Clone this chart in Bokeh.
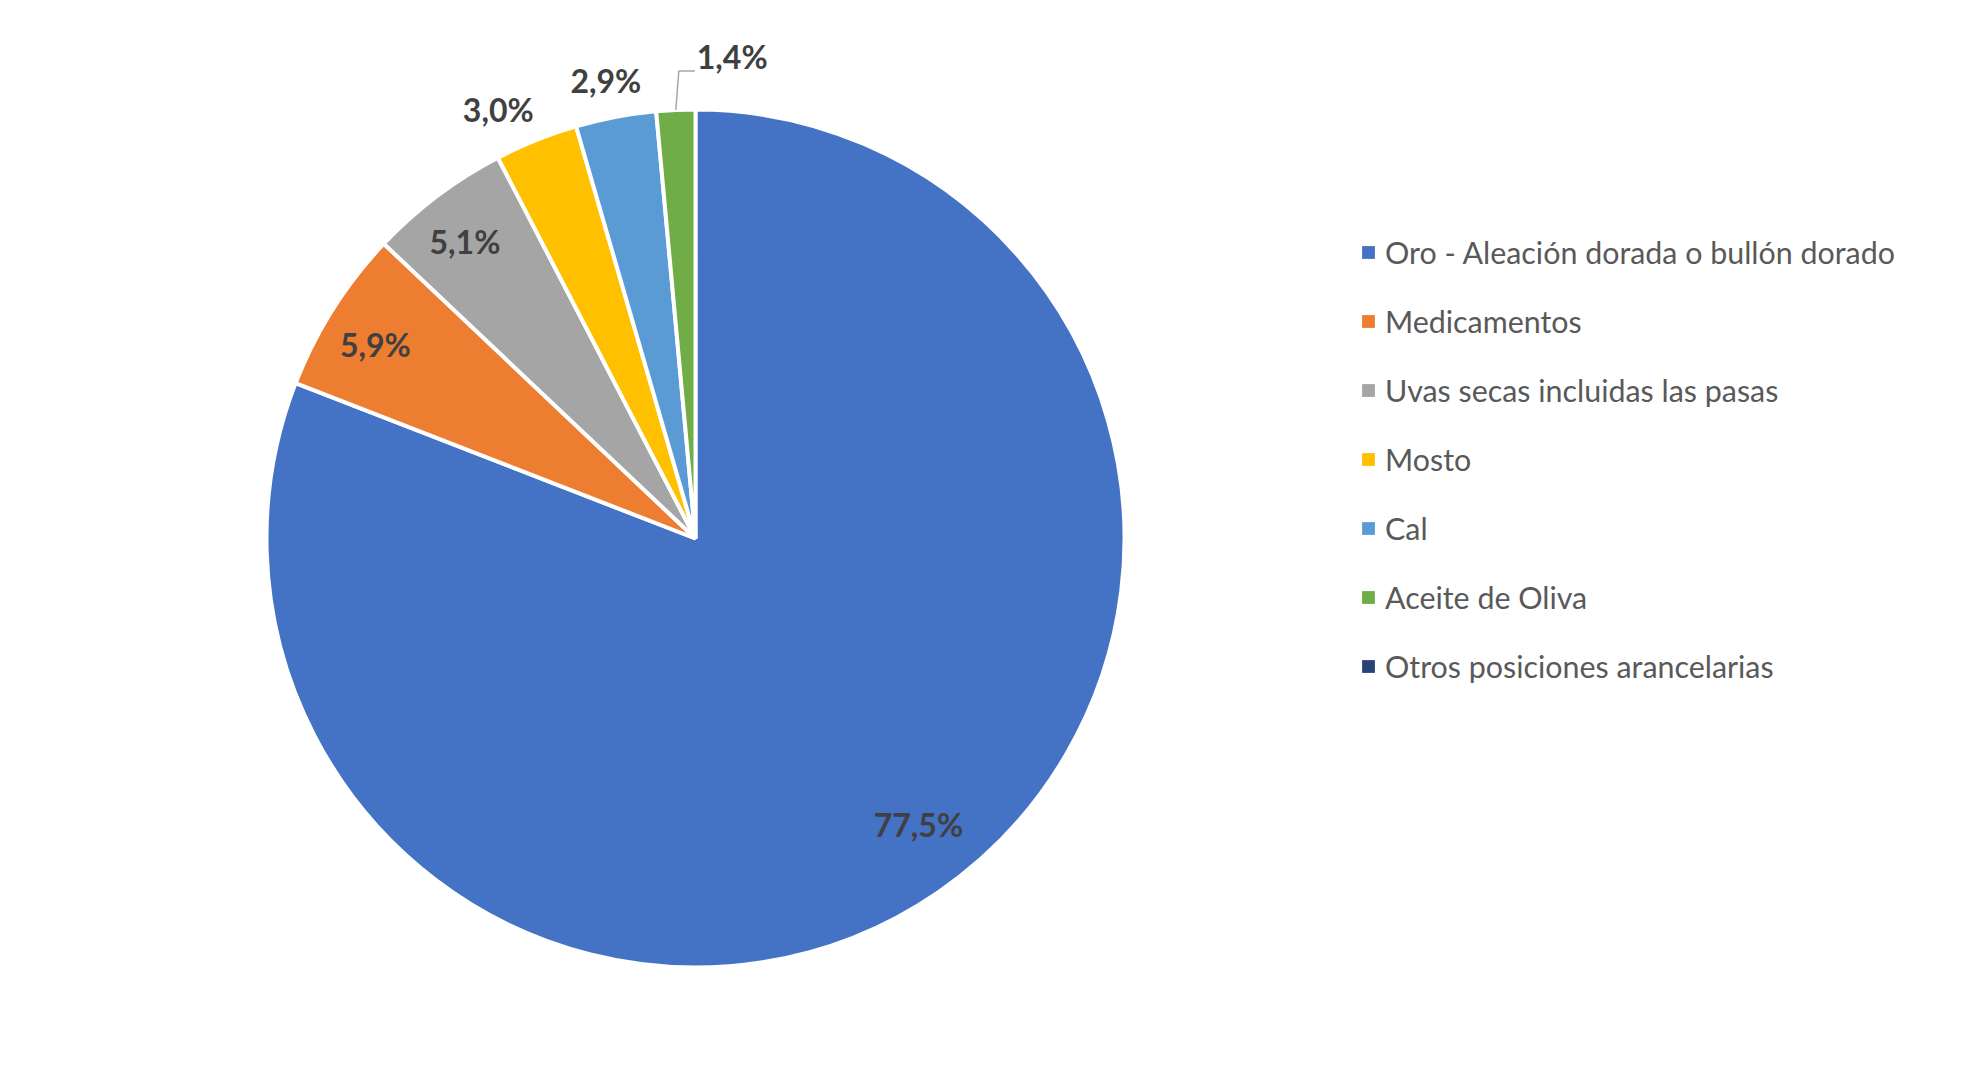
import math
from bokeh.plotting import figure
from bokeh.models import Range1d, Legend, LegendItem, ColumnDataSource
from bokeh.core.properties import value
from bokeh.embed import file_html
from bokeh.resources import INLINE

# ---- data ----
categories = ["Oro - Aleación dorada o bullón dorado", "Medicamentos",
              "Uvas secas incluidas las pasas", "Mosto", "Cal",
              "Aceite de Oliva", "Otros posiciones arancelarias"]
shares = [77.5, 5.9, 5.1, 3.0, 2.9, 1.4, 0.0]
labels = ["77,5%", "5,9%", "5,1%", "3,0%", "2,9%", "1,4%", ""]
colors = ["#4472C4", "#ED7D31", "#A5A5A5", "#FFC000", "#5B9BD5", "#70AD47", "#264478"]

# ---- layout (styling) ----
W, H = 1963, 1061
CX, CY, R = 695, H - 538, 429
label_radius = [0.85, 0.85, 0.85, 1.10, 1.10, 0.0, 0.0]
label_dx = [17, -12, -11, -22, -2, 0, 0]
label_dy = [-15, 1, -6, 9, 6, 0, 0]

p = figure(width=W, height=H, output_backend="svg", toolbar_location=None,
           x_axis_type=None, y_axis_type=None,
           x_range=Range1d(0, W), y_range=Range1d(0, H),
           min_border=0, min_border_left=0, min_border_right=0,
           min_border_top=0, min_border_bottom=0)
p.outline_line_color = None
p.grid.visible = False
p.background_fill_color = "white"
p.border_fill_color = "white"

total = sum(shares)
starts, ends, mids = [], [], []
cum = 0.0
for v in shares:
    f0 = cum / total
    cum += v
    f1 = cum / total
    starts.append(math.pi / 2 - f0 * 2 * math.pi)
    ends.append(math.pi / 2 - f1 * 2 * math.pi)
    mids.append((f0 + f1) / 2 * 2 * math.pi)

nz = [i for i, v in enumerate(shares) if v > 0]
src = ColumnDataSource(dict(cat=[categories[i] for i in nz],
                            start=[starts[i] for i in nz],
                            end=[ends[i] for i in nz],
                            color=[colors[i] for i in nz],
                            x=[CX] * len(nz), y=[CY] * len(nz)))
p.wedge(x="x", y="y", radius=R, start_angle="start", end_angle="end",
        direction="clock", fill_color="color", line_color="white",
        line_width=4, source=src)

# data labels
lx, ly, lt, ox, oy = [], [], [], [], []
for i, lab in enumerate(labels):
    if not lab or label_radius[i] == 0:
        continue
    rr = R * label_radius[i]
    lx.append(CX + rr * math.sin(mids[i]))
    ly.append(CY + rr * math.cos(mids[i]))
    lt.append(lab)
    ox.append(label_dx[i])
    oy.append(label_dy[i])
p.text(x=lx, y=ly, text=lt, x_offset=ox, y_offset=oy,
       text_font=value("Lato"), text_font_style="bold", text_font_size="32px",
       text_color="#404040", text_align="center", text_baseline="middle")

# leader line label for the small slice
gi = 5
sx = CX + R * math.sin(mids[gi])
sy = CY + R * math.cos(mids[gi])
ey = sy + 39
p.line(x=[sx, sx + 3, sx + 19], y=[sy, ey, ey], line_color="#A6A6A6", line_width=1.5)
p.text(x=[sx + 21], y=[ey + 14], text=[labels[gi]],
       text_font=value("Lato"), text_font_style="bold", text_font_size="32px",
       text_color="#404040", text_align="left", text_baseline="middle")

# legend via proxy squares (not drawn in the plot area)
nan = float("nan")
items = []
for c, col in zip(categories, colors):
    r = p.rect(x=[nan], y=[nan], width=[1], height=[1], fill_color=col, line_color=None)
    items.append(LegendItem(label=c, renderers=[r]))
legend = Legend(items=items, location=(1360, 375), orientation="vertical",
                glyph_width=16, glyph_height=16, label_height=40, spacing=29,
                label_standoff=9, padding=0, margin=0,
                border_line_color=None, background_fill_alpha=0,
                label_text_font="Lato", label_text_font_size="30.4px",
                label_text_color="#595959")
p.add_layout(legend)

open("out.html", "w").write(file_html(p, INLINE))
